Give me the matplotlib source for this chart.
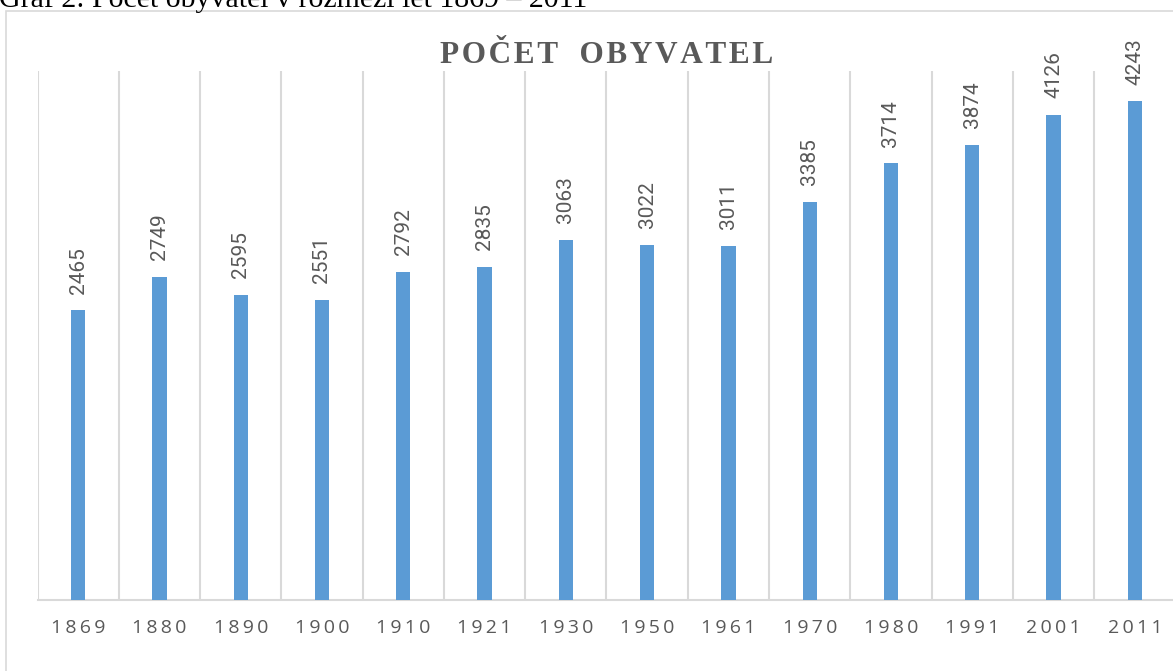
import matplotlib
matplotlib.use("Agg")
import matplotlib.pyplot as plt
from matplotlib.patches import Rectangle

years = ["1869", "1880", "1890", "1900", "1910", "1921", "1930",
         "1950", "1961", "1970", "1980", "1991", "2001", "2011"]
population = [2465, 2749, 2595, 2551, 2792, 2835, 3063,
              3022, 3011, 3385, 3714, 3874, 4126, 4243]

title = "POČET  OBYVATEL"
caption = "Graf 2: Počet obyvatel v rozmezí let 1869 – 2011"

W, H = 1173, 671
bar_color = "#5b9bd5"
grid_color = "#d9d9d9"
text_color = "#595959"

fig = plt.figure(figsize=(W / 100, H / 100), dpi=100)

# outer chart frame (cropped at right/bottom like the reference)
fig.patches.append(Rectangle((6 / W, -0.1), 1.2, 1 - 11 / H + 0.1,
                             transform=fig.transFigure, fill=False,
                             edgecolor=grid_color, linewidth=1.2))

# caption cut off at the top of the image
fig.text(-1 / W, 1 - 7 / H, caption, family=["Liberation Serif", "DejaVu Serif"],
         fontsize=21.5, color="black", ha="left", va="baseline")

left, right = 37.5, 1175.5
ax = fig.add_axes([left / W, 71 / H, (right - left) / W, (600 - 71) / H])
x = list(range(len(years)))
bars = ax.bar(x, population, width=0.175, color=bar_color, zorder=3)
ax.set_xlim(-0.5, len(years) - 0.5)
ax.set_ylim(0, 4500)

ax.set_xticks([i - 0.5 for i in range(len(years) + 1)], minor=True)
ax.grid(which="minor", axis="x", color=grid_color, linewidth=1.5, zorder=0)
ax.set_xticks(x, ["\u2009".join(y) for y in years])
ax.tick_params(axis="x", which="both", length=0, pad=14, labelsize=14,
               labelcolor=text_color)
for lab in ax.get_xticklabels():
    lab.set_family(["Open Sans", "DejaVu Sans"])
ax.set_yticks([])
for s in ("left", "right", "top"):
    ax.spines[s].set_visible(False)
ax.spines["bottom"].set_color(grid_color)
ax.spines["bottom"].set_linewidth(1.5)

ax.bar_label(bars, rotation=90, padding=12, color=text_color,
             fontsize=15, family=["Roboto", "DejaVu Sans"])

spaced_title = "\u200a".join(title).replace("\u200a \u200a \u200a", " \u2009 ")
fig.text(607 / W, 1 - 63 / H, spaced_title,
         family=["Liberation Serif", "DejaVu Serif"], fontweight="bold",
         fontsize=22.5, color=text_color, ha="center", va="baseline")

fig.savefig("out.png", dpi=100)
